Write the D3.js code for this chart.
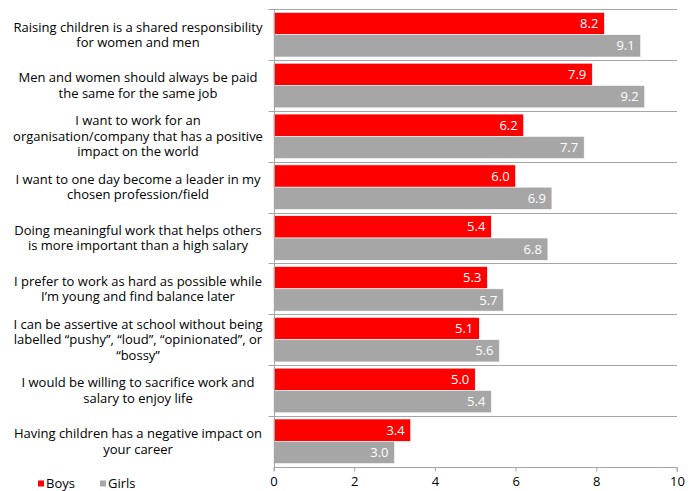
<!DOCTYPE html>
<html>
<head>
<meta charset="utf-8">
<script src="https://cdn.jsdelivr.net/npm/d3@7"></script>
<style>
  html, body { margin: 0; padding: 0; background: #fff; }
  svg { display: block; font-family: "Open Sans", "Noto Sans", sans-serif; }
</style>
</head>
<body>
<svg id="chart" width="697" height="491"></svg>
<script>
// Statements, one array of wrapped lines per category (top to bottom)
const categories = [
  ["Raising children is a shared responsibility", "for women and men"],
  ["Men and women should always be paid", "the same for the same job"],
  ["I want to work for an", "organisation/company that has a positive", "impact on the world"],
  ["I want to one day become a leader in my", "chosen profession/field"],
  ["Doing meaningful work that helps others", "is more important than a high salary"],
  ["I prefer to work as hard as possible while", "I\u2019m young and find balance later"],
  ["I can be assertive at school without being", "labelled \u201cpushy\u201d, \u201cloud\u201d, \u201copinionated\u201d, or", "\u201cbossy\u201d"],
  ["I would be willing to sacrifice work and", "salary to enjoy life"],
  ["Having children has a negative impact on", "your career"]
];
const boys  = [8.2, 7.9, 6.2, 6.0, 5.4, 5.3, 5.1, 5.0, 3.4];
const girls = [9.1, 9.2, 7.7, 6.9, 6.8, 5.7, 5.6, 5.4, 3.0];
const seriesNames = ["Boys", "Girls"];
const xTicks = [0, 2, 4, 6, 8, 10];

const colors = { Boys: "#FF0000", Girls: "#A6A6A6" };
const gridColor = "#A6A6A6";

const svg = d3.select("#chart");
const plotLeft = 273.5, plotRight = 677, plotTop = 9.3, plotBottom = 466.7;

const x = d3.scaleLinear().domain([0, 10]).range([plotLeft, plotRight]);
const y = d3.scaleBand().domain(d3.range(categories.length)).range([plotTop, plotBottom]);
const inner = d3.scaleBand().domain(seriesNames).range([0, y.bandwidth()]).paddingOuter(0.14);

const rows = categories.map((c, i) => ({ i, lines: c, Boys: boys[i], Girls: girls[i] }));

// Category separators with short outward ticks
const seps = d3.range(categories.length).map(i => y(i));
svg.append("g").selectAll("line").data(seps).join("line")
  .attr("x1", plotLeft - 5).attr("x2", plotRight)
  .attr("y1", d => Math.round(d) + 0.5).attr("y2", d => Math.round(d) + 0.5)
  .attr("stroke", gridColor).attr("stroke-width", 1);

// Bars
const g = svg.append("g");
rows.forEach(r => {
  seriesNames.forEach(s => {
    const y0 = y(r.i) + inner(s);
    g.append("rect")
      .attr("x", x(0)).attr("y", y0)
      .attr("width", x(r[s]) - x(0)).attr("height", inner.bandwidth())
      .attr("fill", colors[s])
      .attr("stroke", "#fff").attr("stroke-width", 0.6);
    g.append("text")
      .attr("x", x(r[s]) - 6).attr("y", y0 + inner.bandwidth() / 2)
      .attr("dy", "0.35em").attr("text-anchor", "end")
      .attr("fill", "#fff").attr("font-size", 13)
      .text(r[s].toFixed(1));
  });
});

// Value axis
const xAxis = svg.append("g")
  .attr("transform", `translate(0,${Math.round(plotBottom) + 0.5})`)
  .call(d3.axisBottom(x).tickValues(xTicks).tickSize(4).tickPadding(5).tickFormat(d3.format("d")));
xAxis.select(".domain").attr("stroke", gridColor).attr("d", `M${plotLeft},0H${plotRight}V4`);
xAxis.selectAll(".tick line").attr("stroke", gridColor);
xAxis.selectAll(".tick text").attr("font-size", 13).attr("fill", "#000")
  .attr("font-family", "\"Open Sans\", \"Noto Sans\", sans-serif");

// Category axis line
svg.append("line")
  .attr("x1", Math.round(plotLeft) + 0.5).attr("x2", Math.round(plotLeft) + 0.5)
  .attr("y1", plotTop).attr("y2", plotBottom + 4)
  .attr("stroke", gridColor);

// Category labels, centred block to the left of the axis
const lineH = 15.5;
const labels = svg.append("g").attr("font-size", 13).attr("fill", "#000").attr("text-anchor", "middle");
rows.forEach(r => {
  const cy = y(r.i) + y.bandwidth() / 2;
  const n = r.lines.length;
  const t = labels.append("text").attr("x", 138);
  r.lines.forEach((ln, k) => {
    t.append("tspan").attr("x", 138)
      .attr("y", cy + (k - (n - 1) / 2) * lineH)
      .attr("dy", "0.35em").text(ln);
  });
});

// Legend
const legend = svg.append("g").attr("transform", "translate(38,483.5)");
const legendX = { Boys: 0, Girls: 62 };
seriesNames.forEach(s => {
  const lg = legend.append("g").attr("transform", `translate(${legendX[s]},0)`);
  lg.append("rect").attr("x", 0).attr("y", -3).attr("width", 6).attr("height", 6).attr("fill", colors[s]);
  lg.append("text").attr("x", 8).attr("y", 0).attr("dy", "0.35em")
    .attr("font-size", 13).attr("fill", "#000").text(s);
});
</script>
</body>
</html>
